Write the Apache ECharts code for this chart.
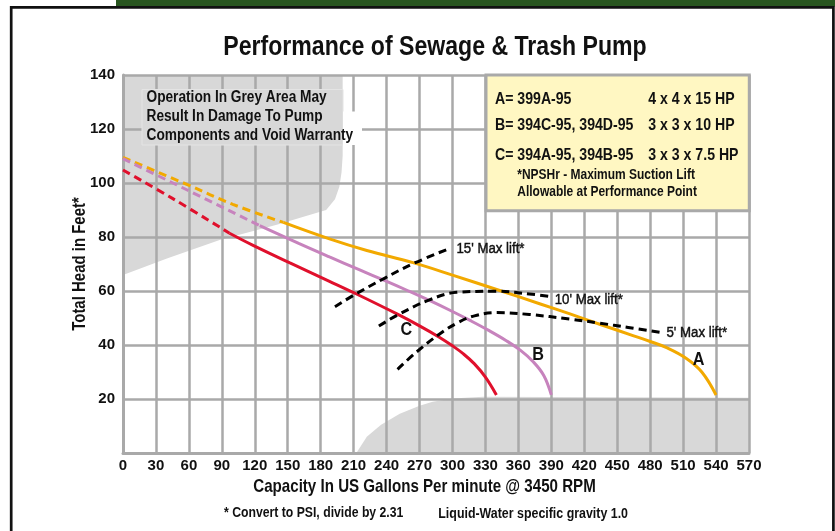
<!DOCTYPE html>
<html><head><meta charset="utf-8">
<script src="https://cdn.jsdelivr.net/npm/echarts@6/dist/echarts.min.js"></script>
<style>html,body{margin:0;padding:0;background:#fff;}#c{width:835px;height:531px;}</style>
</head><body><div id="c"></div>
<script>
const FONT = '"Liberation Sans", Arial, Helvetica, sans-serif';
const COND = 0.855; // horizontal squeeze to mimic a condensed face

// axes
const xMin = 0, xMax = 570, xStep = 30;
const yMin = 0, yMax = 140, yStep = 20;

// pump curves (capacity gpm, head ft)
const pumpA_dashed = [[0,109.5],[58,99.5],[100,92.1],[146,85.4]];
const pumpA = [[146,85.4],[188,79.3],[222,75],[264,70.5],[300,65.9],[343,60.2],[380,55.2],[407,51.5],[434,47.7],[465,43.4],[480,41.3],[495,39.0],[513,35],[527,30],[540,21.5]];
const pumpB_dashed = [[0,109],[58,97.5],[124.5,84.2]];
const pumpB = [[124.5,84.2],[160,77.6],[188,72.6],[215,67.9],[238,63.9],[260,60.0],[279,56.5],[300,52.4],[316,49.1],[333,45.4],[349,41.6],[362,38.0],[373,34.0],[383,28.8],[390,21.5]];
const pumpC_dashed = [[0,104.8],[45,94.3],[97,81.4]];
const pumpC = [[97,81.4],[118,77.0],[152,70.4],[188,63.6],[211,59.2],[249,51.6],[270,47.1],[288,42.9],[300,39.7],[310,36.7],[320,33.0],[330,28.1],[340,21.5]];

// max suction lift curves
const lift15 = [[193,54.2],[212,58.9],[238,64.7],[264,70.1],[297,75.7]];
const lift10 = [[233,47],[250,51.1],[279,56.7],[304,59.5],[340,59.9],[370,58.9],[390,57.9]];
const lift5 = [[250,31],[267,37.3],[288,44],[305,48.3],[320,50.8],[340,52.0],[370,51.3],[407,49.6],[434,48.1],[460,46.5],[489,44.7]];

// grey "do not operate" regions
const greyTopLeft = [[0,140],[200,140],[200,110],[199,104],[197,98.6],[193,94],[185,90],[140,84.5],[88,78.9],[40,72],[0,65.9]];
const greyBottomRight = [[212.5,0],[222,6],[235,10.5],[252,14.5],[270,17.5],[282,19],[300,20.2],[328,20.8],[570,20.5],[570,0]];

// annotations (data coords)
const liftLabelText = ["15' Max lift*", "10' Max lift*", "5' Max lift*"];
const liftLabelPos = [[303.6,75.8],[393.1,56.7],[494.8,44.7]];
const curveLetterText = ['C','B','A'];
const curveLetterPos = [[258,45.6],[377.9,36.3],[524.2,34.4]];

const titleText = 'Performance of Sewage & Trash Pump';
const xName = 'Capacity In US Gallons Per minute @ 3450 RPM';
const yName = 'Total Head in Feet*';
const legendLines = [
  ['A= 399A-95', '4 x 4 x 15 HP'],
  ['B= 394C-95, 394D-95', '3 x 3 x 10 HP'],
  ['C= 394A-95, 394B-95', '3 x 3 x 7.5 HP']
];
const noteLines = ['*NPSHr - Maximum Suction Lift', 'Allowable at Performance Point'];
const warnLines = ['Operation In Grey Area May', 'Result In Damage To Pump', 'Components and Void Warranty'];
const footLines = ['* Convert to PSI, divide by 2.31', 'Liquid-Water specific gravity 1.0'];

const COL_A = '#f2a900', COL_B = '#c783bd', COL_C = '#e0102c';
const GRID_COL = '#a9a9a9';

function lineSeries(data, color, dashed) {
  return {
    type: 'line', data: data, showSymbol: false, smooth: 0.4,
    lineStyle: { color: color, width: 3, type: dashed ? [8, 5] : 'solid' },
    z: 3, silent: true
  };
}
function polySeries(data) {
  return {
    type: 'custom', z: -1, silent: true,
    data: [0],
    renderItem: function (params, api) {
      const pts = data.map(p => api.coord(p));
      return { type: 'polygon', shape: { points: pts }, style: { fill: '#d8d8d8' } };
    }
  };
}
function ctext(x, y, text, size, o) {
  o = o || {};
  const st = { text: text, font: (o.weight || 'bold') + ' ' + size + 'px ' + FONT, fill: '#111',
      textAlign: o.align || 'left', textVerticalAlign: 'middle' };
  if (o.thicken) { st.stroke = '#111'; st.lineWidth = o.thicken; }
  return { type: 'text', x: x, y: y, scaleX: o.scale || COND, rotation: o.rotation || 0, z: 8, style: st };
}

const chart = echarts.init(document.getElementById('c'), null, { renderer: 'canvas' });

const graphics = [
  { type: 'rect', shape: { x: 116, y: 0, width: 719, height: 6.5 }, style: { fill: '#28551f' }, z: 10 },
  { type: 'rect', shape: { x: 11.2, y: 7.3, width: 822.2, height: 600 }, style: { fill: 'none', stroke: '#111', lineWidth: 2.7 }, z: 10 },
  ctext(435, 48, titleText, 27, { align: 'center' }),
  // warning box
  { type: 'rect', shape: { x: 142, y: 89.5, width: 201, height: 55.5 }, style: { fill: '#d8d8d8', stroke: '#e4e4e4', lineWidth: 1 }, z: 5 },
  { type: 'rect', shape: { x: 343, y: 111.5, width: 19, height: 33.5 }, style: { fill: '#ffffff' }, z: 5 },
  // legend box
  { type: 'rect', shape: { x: 486, y: 75, width: 263.3, height: 135.7 }, style: { fill: '#fff7c2', stroke: '#a9a9a9', lineWidth: 3 }, z: 5 },
  // axis names
  ctext(424.5, 487, xName, 17.7, { align: 'center' }),
  ctext(80, 264, yName, 17.5, { align: 'center', rotation: Math.PI / 2 })
];
warnLines.forEach((t, i) => graphics.push(ctext(146.5, 98 + i * 18.7, t, 16)));
const legY = [99, 125.5, 155.5];
legendLines.forEach((pair, i) => {
  graphics.push(ctext(495, legY[i], pair[0], 16.5));
  graphics.push(ctext(648.3, legY[i], pair[1], 16.5));
});
noteLines.forEach((t, i) => graphics.push(ctext(517.3, 175 + i * 16.7, t, 14)));
graphics.push(ctext(224, 513.5, footLines[0], 14.3));
graphics.push(ctext(438.3, 513.5, footLines[1], 14.5));

const option = {
  backgroundColor: '#ffffff',
  animation: false,
  grid: { left: 123, right: 86, top: 75, bottom: 78, containLabel: false },
  xAxis: {
    type: 'value', min: xMin, max: xMax, interval: xStep,
    axisLine: { show: true, lineStyle: { color: GRID_COL, width: 3 } },
    axisTick: { show: false },
    axisLabel: { margin: 5, fontFamily: FONT, fontWeight: 'bold', fontSize: 15, color: '#111' },
    splitLine: { show: true, lineStyle: { color: GRID_COL, width: 2.5 } }
  },
  yAxis: {
    type: 'value', min: yMin, max: yMax, interval: yStep,
    axisLine: { show: true, lineStyle: { color: GRID_COL, width: 3 } },
    axisTick: { show: false },
    axisLabel: { margin: 8, fontFamily: FONT, fontWeight: 'bold', fontSize: 15, color: '#111', formatter: v => (v === 0 ? '' : String(v)) },
    splitLine: { show: true, lineStyle: { color: GRID_COL, width: 2.5 } }
  },
  series: [
    polySeries(greyTopLeft),
    polySeries(greyBottomRight),
    lineSeries(pumpA_dashed, COL_A, true),
    lineSeries(pumpA, COL_A, false),
    lineSeries(pumpB_dashed, COL_B, true),
    lineSeries(pumpB, COL_B, false),
    lineSeries(pumpC_dashed, COL_C, true),
    lineSeries(pumpC, COL_C, false),
    lineSeries(lift15, '#000', true),
    lineSeries(lift10, '#000', true),
    lineSeries(lift5, '#000', true)
  ]
};
chart.setOption(option);

// annotations placed through the chart's own coordinate conversion
liftLabelText.forEach((t, i) => {
  const p = chart.convertToPixel({ gridIndex: 0 }, liftLabelPos[i]);
  graphics.push(ctext(p[0], p[1], t, 15.5, { weight: 'normal', thicken: 0.45 }));
});
curveLetterText.forEach((t, i) => {
  const p = chart.convertToPixel({ gridIndex: 0 }, curveLetterPos[i]);
  graphics.push(ctext(p[0], p[1], t, 18, { align: 'center', scale: 0.9 }));
});
chart.setOption({ graphic: graphics });
</script></body></html>
